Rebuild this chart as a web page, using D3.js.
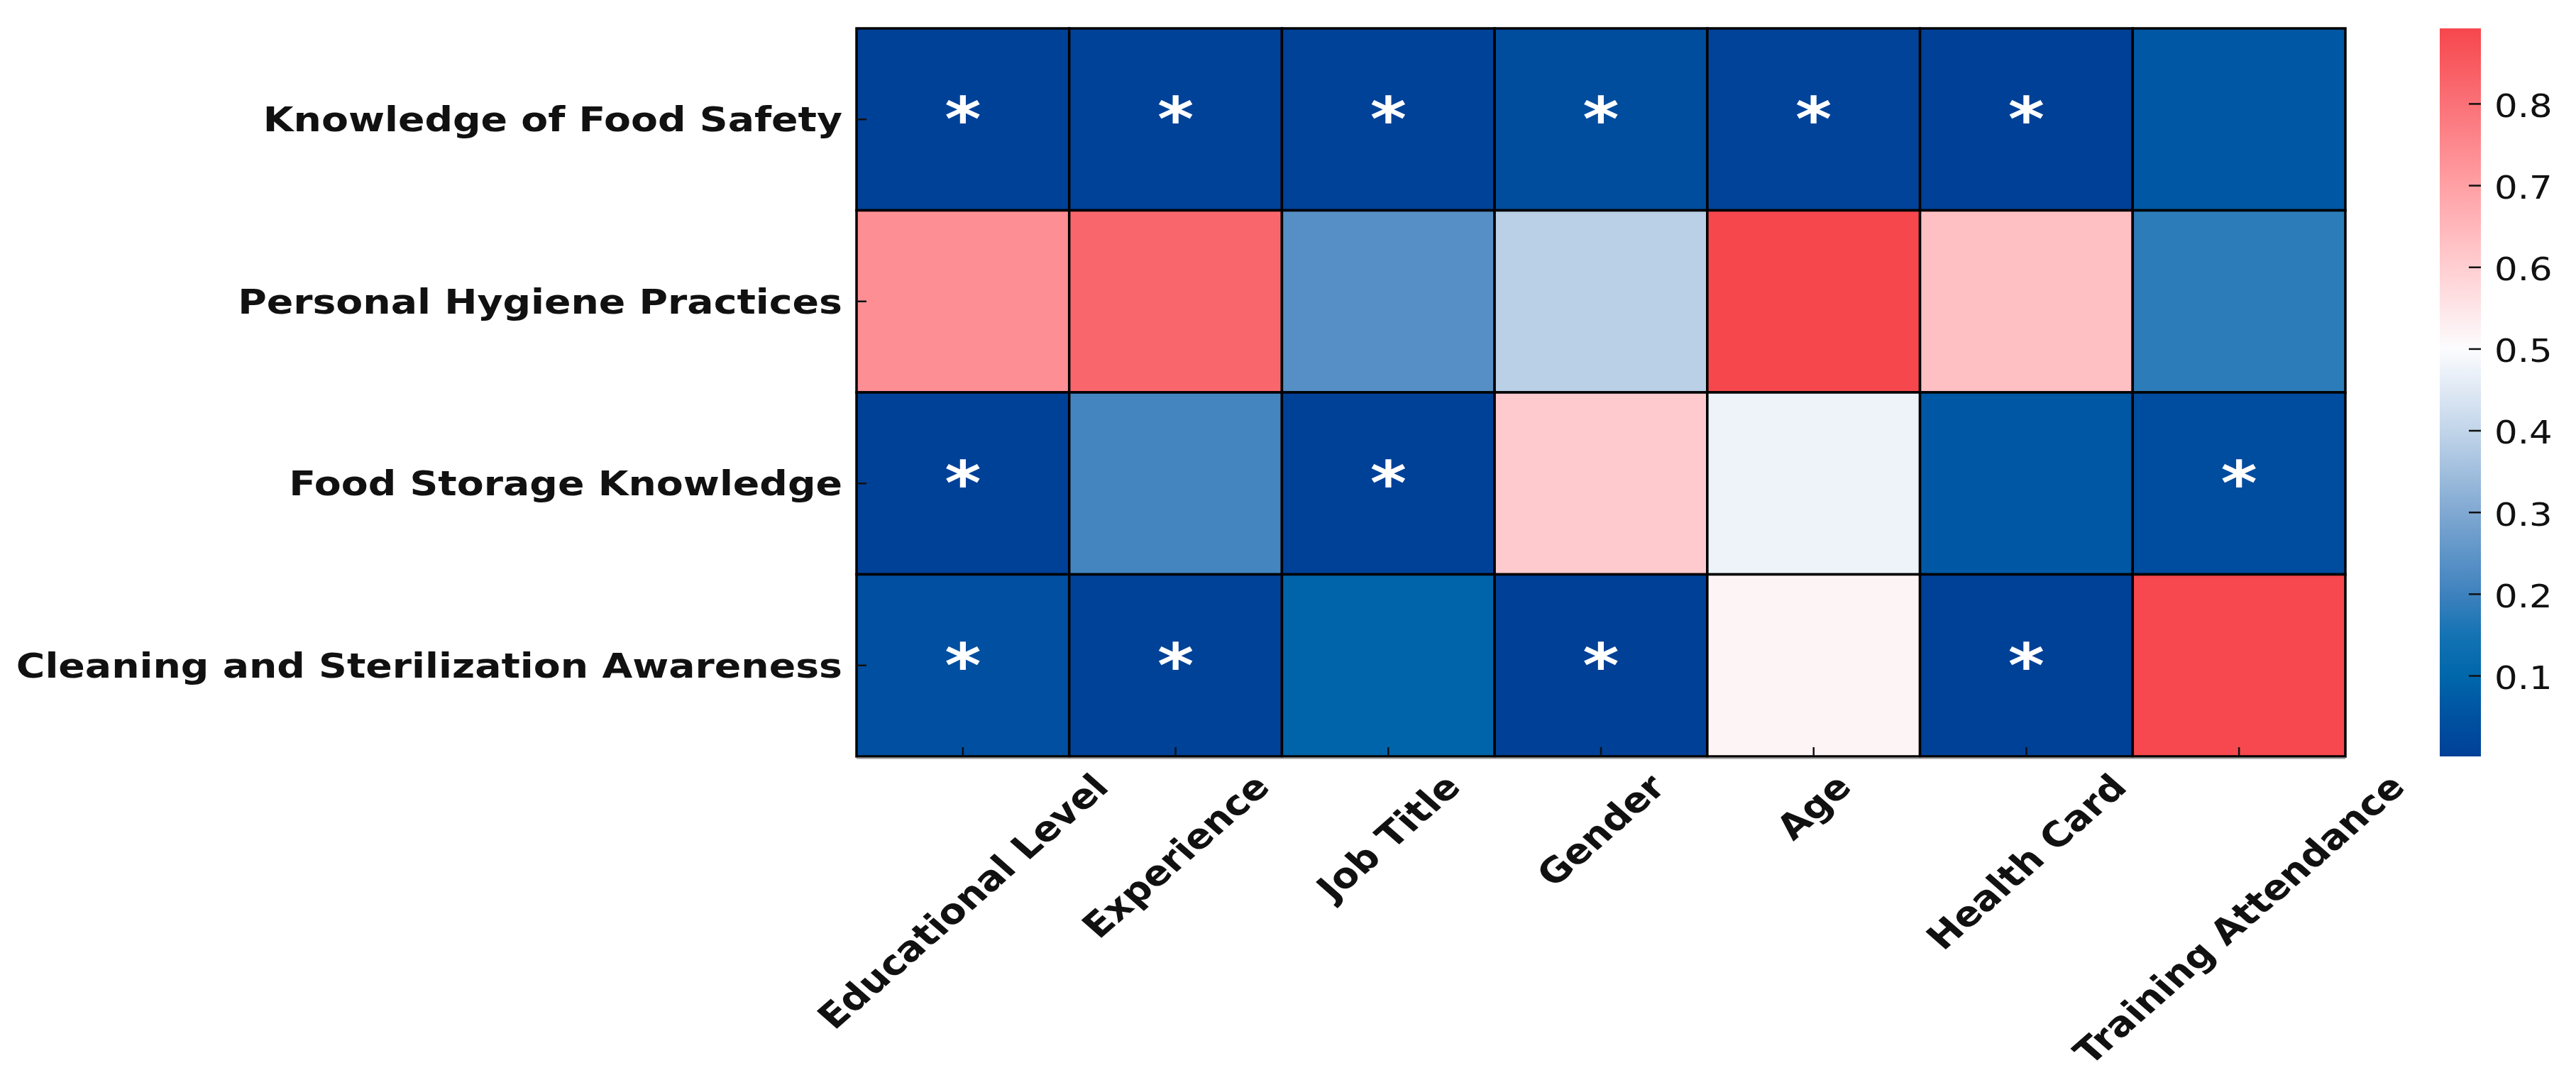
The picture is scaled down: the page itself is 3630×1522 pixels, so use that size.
<!DOCTYPE html>
<html>
<head>
<meta charset="utf-8">
<script src="https://cdn.jsdelivr.net/npm/d3@7"></script>
<style>
  html, body { margin: 0; padding: 0; background: #ffffff; }
  svg { display: block; }
</style>
</head>
<body>
<svg id="chart" width="3630" height="1522"></svg>
<script>
// ---------------- data ----------------
const rowLabels = [
  "Knowledge of Food Safety",
  "Personal Hygiene Practices",
  "Food Storage Knowledge",
  "Cleaning and Sterilization Awareness"
];
const colLabels = [
  "Educational Level", "Experience", "Job Title", "Gender",
  "Age", "Health Card", "Training Attendance"
];
// p-values per row (one array per outcome)
const pKnowledge = [0.004, 0.006, 0.005, 0.032, 0.008, 0.002, 0.062];
const pHygiene   = [0.736, 0.822, 0.235, 0.388, 0.892, 0.630, 0.179];
const pStorage   = [0.003, 0.209, 0.004, 0.609, 0.476, 0.064, 0.033];
const pCleaning  = [0.043, 0.005, 0.093, 0.001, 0.517, 0.003, 0.889];
const colorbarTicks = [0.1, 0.2, 0.3, 0.4, 0.5, 0.6, 0.7, 0.8];
const significance = 0.05;

// colormap stops (value -> colour)
const cmapValues = [0.0, 0.05, 0.10, 0.15, 0.20, 0.30, 0.40, 0.50, 0.60, 0.70, 0.80, 0.892];
const cmapColors = ["rgb(0,64,151)", "rgb(0,82,161)", "rgb(0,103,171)", "rgb(20,115,179)",
  "rgb(62,130,190)", "rgb(128,168,210)", "rgb(194,213,234)", "rgb(252,252,254)",
  "rgb(255,206,209)", "rgb(255,160,164)", "rgb(250,113,119)", "rgb(246,71,77)"];

const matrix = [pKnowledge, pHygiene, pStorage, pCleaning];

// ---------------- layout ----------------
const SX = 1.14;               // horizontal stretch of the original figure
const FONT = "'DejaVu Sans', 'Liberation Sans', sans-serif";
const plotL = 1207, plotR = 3305, plotT = 40, plotB = 1066;
const cbL = 3438, cbR = 3496;

const svg = d3.select("#chart");

const x = d3.scaleBand().domain(colLabels).range([plotL, plotR]);
const y = d3.scaleBand().domain(rowLabels).range([plotT, plotB]);

const allVals = matrix.flat();
const vmin = d3.min(allVals), vmax = d3.max(allVals);
const color = d3.scaleLinear().domain(cmapValues).range(cmapColors)
  .interpolate(d3.interpolateRgb).clamp(true);

// cells
const cells = [];
matrix.forEach((row, i) => row.forEach((v, j) => cells.push({r: rowLabels[i], c: colLabels[j], v})));

svg.append("g").selectAll("rect").data(cells).join("rect")
  .attr("x", d => x(d.c)).attr("y", d => y(d.r))
  .attr("width", x.bandwidth()).attr("height", y.bandwidth())
  .attr("fill", d => color(d.v))
  .attr("stroke", "#000").attr("stroke-width", 3.5);

// subtle lower spine
svg.append("line").attr("x1", plotL).attr("x2", plotR)
  .attr("y1", plotB + 2.5).attr("y2", plotB + 2.5)
  .attr("stroke", "#9a9a9a").attr("stroke-width", 2);

// significance stars
const starSize = 86;
svg.append("g").selectAll("text").data(cells.filter(d => d.v < significance)).join("text")
  .attr("transform", d => `translate(${x(d.c) + x.bandwidth() / 2},${y(d.r) + y.bandwidth() / 2 + 0.35 * starSize}) scale(${SX},1)`)
  .attr("text-anchor", "middle")
  .attr("font-family", FONT).attr("font-weight", "bold")
  .attr("font-size", starSize).attr("fill", "#ffffff")
  .text("*");

// y axis ticks (inside)
const yAxis = svg.append("g").attr("transform", `translate(${plotL},0)`)
  .call(d3.axisLeft(y).tickSize(-14).tickFormat(""));
yAxis.select(".domain").remove();
yAxis.selectAll(".tick line").attr("stroke", "#111").attr("stroke-width", 2.5);

// x axis ticks (inside)
const xAxis = svg.append("g").attr("transform", `translate(0,${plotB})`)
  .call(d3.axisBottom(x).tickSize(-13).tickFormat(""));
xAxis.select(".domain").remove();
xAxis.selectAll(".tick line").attr("stroke", "#111").attr("stroke-width", 2.5);

// y labels
const labelSize = 48.5;
svg.append("g").selectAll("text").data(rowLabels).join("text")
  .attr("transform", d => `translate(${plotL - 20},${y(d) + y.bandwidth() / 2}) scale(${SX},1)`)
  .attr("text-anchor", "end").attr("dominant-baseline", "central")
  .attr("font-family", FONT).attr("font-weight", "bold")
  .attr("font-size", labelSize).attr("fill", "#111")
  .text(d => d);

// x labels, rotated 45°, centred under the tick (matplotlib ha=center)
const xLabTop = 1080;
const xl = svg.append("g").selectAll("text").data(colLabels).join("text")
  .attr("text-anchor", "middle").attr("dominant-baseline", "central")
  .attr("font-family", FONT).attr("font-weight", "bold")
  .attr("font-size", labelSize).attr("fill", "#111")
  .text(d => d);
xl.each(function(d) {
  const L = this.getComputedTextLength();
  const hb = (L + 1.164 * labelSize) * Math.SQRT1_2;
  d3.select(this).attr("transform",
    `translate(${x(d) + x.bandwidth() / 2},${xLabTop + hb / 2}) scale(${SX},1) rotate(-45)`);
});

// ---------------- colorbar ----------------
const cScale = d3.scaleLinear().domain([vmin, vmax]).range([plotB, plotT]);
const defs = svg.append("defs");
const grad = defs.append("linearGradient").attr("id", "cbgrad")
  .attr("x1", 0).attr("y1", 1).attr("x2", 0).attr("y2", 0);
d3.range(0, 1.0001, 0.01).forEach(t => {
  grad.append("stop").attr("offset", t).attr("stop-color", color(vmin + t * (vmax - vmin)));
});
svg.append("rect").attr("x", cbL).attr("y", plotT)
  .attr("width", cbR - cbL).attr("height", plotB - plotT)
  .attr("fill", "url(#cbgrad)");

const cAxis = svg.append("g").attr("transform", `translate(${cbR},0)`)
  .call(d3.axisRight(cScale).tickValues(colorbarTicks).tickSize(-17).tickFormat(""));
cAxis.select(".domain").remove();
cAxis.selectAll(".tick line").attr("stroke", "#111").attr("stroke-width", 2.5);

const cbSize = 45;
svg.append("g").selectAll("text").data(colorbarTicks).join("text")
  .attr("transform", d => `translate(${cbR + 19},${cScale(d) + 3}) scale(${SX},1)`)
  .attr("dominant-baseline", "central")
  .attr("font-family", FONT).attr("font-size", cbSize).attr("fill", "#111")
  .text(d3.format(".1f"));
</script>
</body>
</html>
